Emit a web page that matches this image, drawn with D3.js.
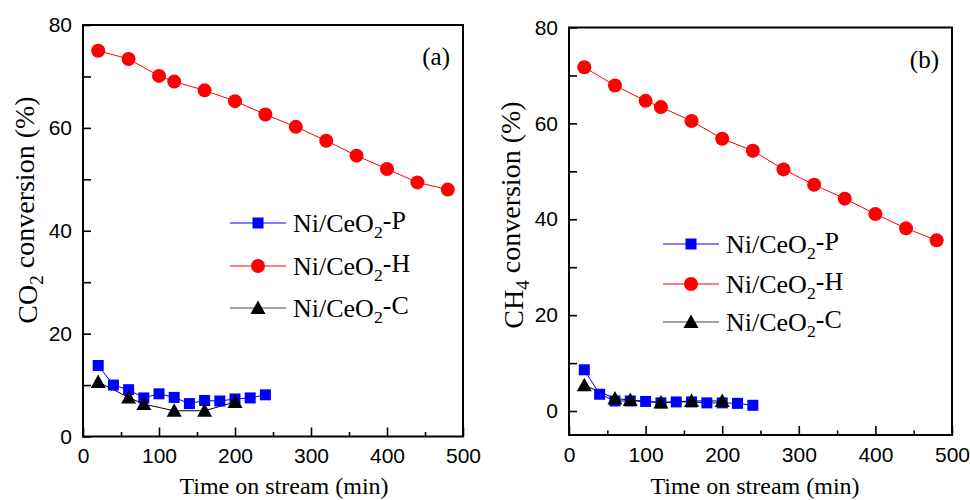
<!DOCTYPE html>
<html>
<head>
<meta charset="utf-8">
<script src="https://cdn.jsdelivr.net/npm/d3@7/dist/d3.min.js"></script>
<style>
  html, body { margin: 0; padding: 0; background: #fff; }
  svg { display: block; }
</style>
</head>
<body>
<svg id="chart" width="970" height="500"></svg>
<script>
// Time on stream (min) for each catalyst
const timeP = [20, 40, 60, 80, 100, 120, 140, 160, 180, 200, 220, 240];
const timeH = [20, 60, 100, 120, 160, 200, 240, 280, 320, 360, 400, 440, 480];
const timeC = [20, 60, 80, 120, 160, 200];

// CO2 conversion (%)
const co2P = [13.8, 10.0, 9.1, 7.5, 8.3, 7.6, 6.4, 7.0, 6.9, 7.3, 7.5, 8.1];
const co2H = [75.0, 73.4, 70.1, 69.0, 67.3, 65.2, 62.6, 60.2, 57.5, 54.6, 52.0, 49.4, 48.0];
const co2C = [10.6, 7.6, 6.3, 5.0, 5.0, 6.7];

// CH4 conversion (%)
const ch4P = [8.6, 3.5, 2.1, 2.1, 2.0, 1.7, 1.9, 1.9, 1.7, 1.7, 1.6, 1.2];
const ch4H = [71.7, 67.9, 64.7, 63.4, 60.5, 56.8, 54.3, 50.4, 47.2, 44.3, 41.1, 38.1, 35.6];
const ch4C = [5.4, 2.6, 2.3, 1.8, 2.1, 2.1];

const seriesNames = ["Ni/CeO2-P", "Ni/CeO2-H", "Ni/CeO2-C"];
const xTicks = [0, 100, 200, 300, 400, 500];
const xMinorTicks = [50, 150, 250, 350, 450];
const yTicks = [0, 20, 40, 60, 80];
const yMinorTicks = [10, 30, 50, 70];

const SANS = "'Liberation Sans', Arial, sans-serif";
const SERIF = "'Liberation Serif', 'Times New Roman', serif";
const colors = { P: "#0000ff", H: "#ff0000", C: "#000000" };

const svg = d3.select("#chart");

function triPath(s) {
  return `M0,${-s} L${s},${s * 0.8} L${-s},${s * 0.8} Z`;
}

function drawMarker(g, kind, cx, cy) {
  if (kind === "P") {
    g.append("rect").attr("x", cx - 5.5).attr("y", cy - 5.5)
      .attr("width", 11).attr("height", 11).attr("fill", colors.P);
  } else if (kind === "H") {
    g.append("circle").attr("cx", cx).attr("cy", cy).attr("r", 7).attr("fill", colors.H);
  } else {
    g.append("path").attr("d", triPath(7.5))
      .attr("transform", `translate(${cx},${cy})`).attr("fill", colors.C);
  }
}

// Adds "prefix" + subscript + "suffix" as tspans
function subText(sel, prefix, sub, suffix) {
  sel.append("tspan").text(prefix);
  sel.append("tspan").attr("font-size", "68%").attr("dy", "0.32em").text(sub);
  sel.append("tspan").attr("dy", "-0.32em").text(suffix);
}

function panel(cfg) {
  const x = d3.scaleLinear().domain([0, 500]).range([cfg.left, cfg.right]);
  const y = d3.scaleLinear().domain(cfg.yDomain).range([cfg.bottom, cfg.top]);
  const g = svg.append("g");

  // x axis: major and minor inward ticks
  const gx = g.append("g").attr("transform", `translate(0,${cfg.bottom})`)
    .call(d3.axisBottom(x).tickValues(xTicks).tickSizeInner(-9).tickSizeOuter(0).tickPadding(12));
  g.append("g").attr("transform", `translate(0,${cfg.bottom})`)
    .call(d3.axisBottom(x).tickValues(xMinorTicks).tickSizeInner(-4.5).tickSizeOuter(0).tickFormat(""));

  // y axis
  const gy = g.append("g").attr("transform", `translate(${cfg.left},0)`)
    .call(d3.axisLeft(y).tickValues(yTicks).tickSizeInner(-8).tickSizeOuter(0).tickPadding(11));
  g.append("g").attr("transform", `translate(${cfg.left},0)`)
    .call(d3.axisLeft(y).tickValues(yMinorTicks).tickSizeInner(-8).tickSizeOuter(0).tickFormat(""));

  g.selectAll(".domain").remove();
  g.selectAll(".tick line").attr("stroke", "#000").attr("stroke-width", 1.6);
  g.selectAll(".tick text").attr("font-family", SANS).attr("font-size", 21).attr("fill", "#000");

  // frame
  g.append("rect")
    .attr("x", cfg.left).attr("y", cfg.top)
    .attr("width", cfg.right - cfg.left).attr("height", cfg.bottom - cfg.top)
    .attr("fill", "none").attr("stroke", "#000").attr("stroke-width", 2);

  const series = [
    { k: "P", t: timeP, v: cfg.P },
    { k: "H", t: timeH, v: cfg.H },
    { k: "C", t: timeC, v: cfg.C }
  ];
  const line = d3.line().x(d => x(d[0])).y(d => y(d[1]));
  series.forEach(s => {
    const pts = s.t.map((t, i) => [t, s.v[i]]);
    g.append("path").attr("d", line(pts)).attr("fill", "none")
      .attr("stroke", colors[s.k]).attr("stroke-width", 1);
  });
  series.forEach(s => {
    const mg = g.append("g");
    s.t.forEach((t, i) => drawMarker(mg, s.k, x(t), y(s.v[i])));
  });

  // legend
  const lg = g.append("g");
  series.forEach((s, i) => {
    const ly = cfg.legY[i];
    lg.append("line").attr("x1", cfg.legX).attr("x2", cfg.legX + 56)
      .attr("y1", ly).attr("y2", ly)
      .attr("stroke", s.k === "C" ? "#444" : colors[s.k]).attr("stroke-width", 1);
    drawMarker(lg, s.k, cfg.legX + 28, ly);
    const t = lg.append("text").attr("x", cfg.legX + 63).attr("y", ly + 9)
      .attr("font-family", SERIF).attr("font-size", 26).attr("fill", "#000");
    const name = seriesNames[i];
    subText(t, name.slice(0, 6), "2", name.slice(7));
  });

  // panel tag
  g.append("text").attr("x", cfg.right - 13).attr("y", cfg.top + 40)
    .attr("text-anchor", "end").attr("font-family", SERIF).attr("font-size", 25)
    .text(cfg.tag);

  // axis titles
  g.append("text").attr("x", cfg.xTitleX).attr("y", 494)
    .attr("text-anchor", "middle").attr("font-family", SERIF).attr("font-size", 24)
    .text("Time on stream (min)");
  const yt = g.append("text")
    .attr("transform", `translate(${cfg.yTitleX},${cfg.yTitleY}) rotate(-90)`)
    .attr("text-anchor", "middle").attr("font-family", SERIF).attr("font-size", 28);
  subText(yt, cfg.yTitle[0], cfg.yTitle[1], cfg.yTitle[2]);
}

panel({
  left: 83, right: 463, top: 25, bottom: 436.5, yDomain: [0, 80],
  P: co2P, H: co2H, C: co2C,
  legX: 230, legY: [223, 266, 308],
  tag: "(a)", xTitleX: 284, yTitleX: 37, yTitleY: 210,
  yTitle: ["CO", "2", " conversion (%)"]
});

panel({
  left: 569, right: 952, top: 27.5, bottom: 435, yDomain: [-5, 80],
  P: ch4P, H: ch4H, C: ch4C,
  legX: 663, legY: [244, 284, 322],
  tag: "(b)", xTitleX: 755, yTitleX: 523, yTitleY: 215,
  yTitle: ["CH", "4", " conversion (%)"]
});
</script>
</body>
</html>
